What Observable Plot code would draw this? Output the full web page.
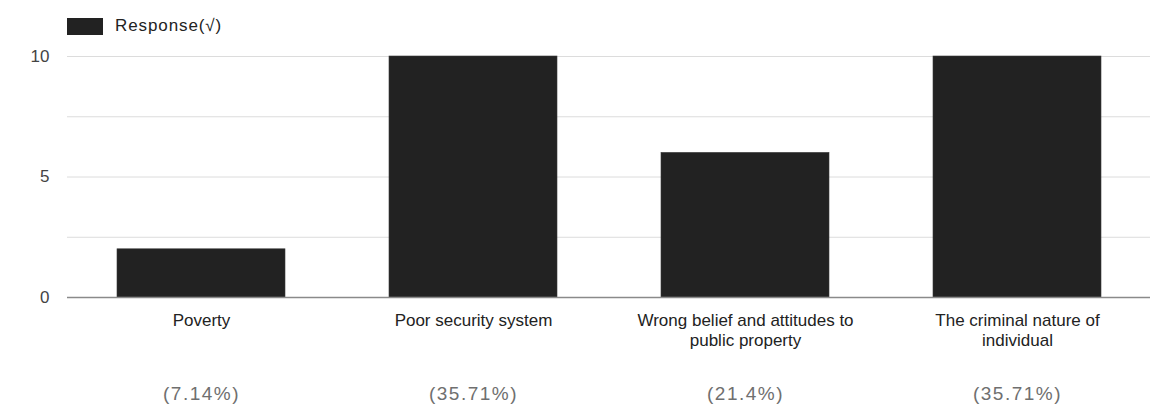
<!DOCTYPE html>
<html>
<head>
<meta charset="utf-8">
<script src="https://cdn.jsdelivr.net/npm/d3@7"></script>
<script src="https://cdn.jsdelivr.net/npm/@observablehq/plot@0.6"></script>
<style>
  html, body { margin: 0; padding: 0; background: #fff; }
  body { width: 1164px; height: 405px; overflow: hidden; font-family: "Liberation Sans", Arial, sans-serif; }
  .legend { height: 40px; position: relative; }
  .legend .swatch { position: absolute; left: 67px; top: 18px; width: 36px; height: 17px; background: #222; }
  .legend .label { position: absolute; left: 115px; top: 16px; font-size: 17px; line-height: 20px; color: #222; letter-spacing: 0.9px; }
  .share text { letter-spacing: 1.5px; }
</style>
</head>
<body>
<div class="legend"><span class="swatch"></span><span class="label">Response(√)</span></div>
<div id="chart"></div>
<script>
// Reasons given for vandalism of public property, with response counts
const categories = [
  "Poverty",
  "Poor security system",
  "Wrong belief and attitudes to public property",
  "The criminal nature of individual"
];
const tickLabels = [
  "Poverty",
  "Poor security system",
  "Wrong belief and attitudes to\npublic property",
  "The criminal nature of\nindividual"
];
const responses = [2, 10, 6, 10];
const shareLabels = ["(7.14%)", "(35.71%)", "(21.4%)", "(35.71%)"];
const yTicks = [0, 5, 10];
const gridValues = [0, 2.5, 5, 7.5, 10];

const rows = categories.map((c, i) => ({
  category: c,
  label: tickLabels[i],
  value: responses[i],
  share: shareLabels[i]
}));

const chart = Plot.plot({
  width: 1164,
  height: 365,
  marginLeft: 67,
  marginRight: 14,
  marginTop: 16,
  marginBottom: 108,
  style: { fontFamily: "'Liberation Sans', Arial, sans-serif", background: "#fff", overflow: "visible" },
  x: { domain: categories, paddingInner: 0.384, paddingOuter: 0.18, label: null },
  y: { domain: [0, 10], label: null },
  marks: [
    Plot.ruleY(gridValues, { stroke: "#dcdcdc", strokeWidth: 1 }),
    Plot.barY(rows, { x: "category", y: "value", fill: "#222222", stroke: "#3a3a3a", strokeWidth: 0.6 }),
    Plot.ruleY([0], { stroke: "#8a8a8a", strokeWidth: 1.5 }),
    Plot.axisY({
      ticks: yTicks, tickSize: 0, tickPadding: 18,
      fontSize: 17, fill: "#444", label: null
    }),
    Plot.axisX({
      tickSize: 0, tickPadding: 15,
      tickFormat: (d) => tickLabels[categories.indexOf(d)],
      fontSize: 17, fill: "#222", lineHeight: 1.15, label: null
    }),
    Plot.text(rows, {
      x: "category", y: 0, text: "share",
      dy: 96, fontSize: 19, fill: "#6f6f6f", lineAnchor: "middle",
      className: "share"
    })
  ]
});
document.getElementById("chart").append(chart);
</script>
</body>
</html>
